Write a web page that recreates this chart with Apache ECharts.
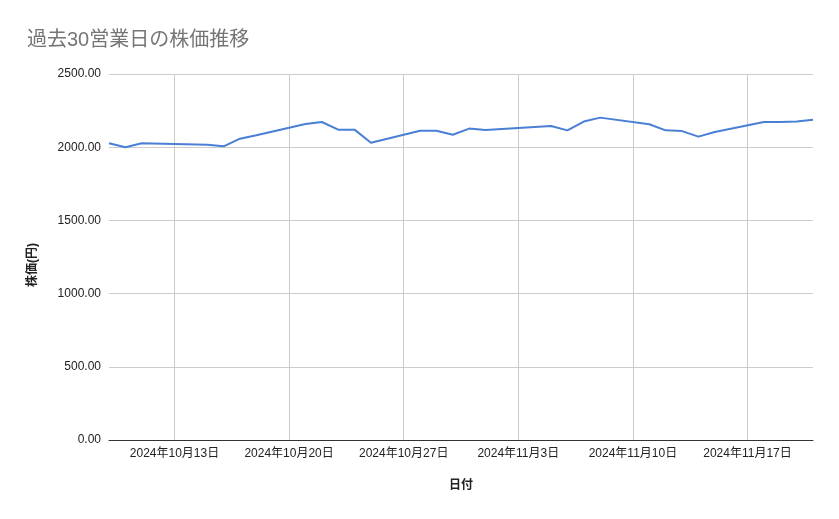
<!DOCTYPE html>
<html>
<head>
<meta charset="utf-8">
<script src="https://cdn.jsdelivr.net/npm/echarts@6/dist/echarts.min.js"></script>
<style>html,body{margin:0;padding:0;background:#fff;}#chart{width:839px;height:519px;}</style>
</head>
<body>
<div id="chart"></div>
<script>
const titleText = '過去30営業日の株価推移';
const xAxisName = '日付';
const yAxisName = '株価(円)';
const tradeDates = [
  '2024-10-09','2024-10-10','2024-10-11','2024-10-15','2024-10-16','2024-10-17','2024-10-18',
  '2024-10-21','2024-10-22','2024-10-23','2024-10-24','2024-10-25',
  '2024-10-28','2024-10-29','2024-10-30','2024-10-31','2024-11-01',
  '2024-11-05','2024-11-06','2024-11-07','2024-11-08',
  '2024-11-11','2024-11-12','2024-11-13','2024-11-14','2024-11-15',
  '2024-11-18','2024-11-19','2024-11-20','2024-11-21'
];
const prices = [
  2027, 2000, 2027, 2016, 2006, 2058, 2082,
  2158, 2172, 2120, 2120, 2031,
  2113, 2113, 2085, 2127, 2117,
  2145, 2115, 2175, 2202,
  2157, 2115, 2110, 2072, 2104,
  2172, 2172, 2175, 2188
];
const yTicks = [0, 500, 1000, 1500, 2000, 2500];

const FONT = "'Liberation Sans', 'Noto Sans CJK JP', sans-serif";

// Build calendar-day category axis spanning the trading dates
function parse(s){ const p = s.split('-').map(Number); return Date.UTC(p[0], p[1]-1, p[2]); }
const DAY = 86400000;
const start = parse(tradeDates[0]), end = parse(tradeDates[tradeDates.length-1]);
const calendar = [];
for (let t = start; t <= end; t += DAY) calendar.push(t);
const priceByDay = {};
tradeDates.forEach((d, i) => { priceByDay[parse(d)] = prices[i]; });
const seriesData = calendar.map(t => (t in priceByDay ? priceByDay[t] : null));
const catLabels = calendar.map(t => {
  const d = new Date(t);
  return d.getUTCFullYear() + '年' + (d.getUTCMonth()+1) + '月' + d.getUTCDate() + '日';
});
const isSunday = (idx) => new Date(calendar[idx]).getUTCDay() === 0;

const chart = echarts.init(document.getElementById('chart'));
chart.setOption({
  animation: false,
  backgroundColor: '#ffffff',
  title: {
    text: titleText,
    left: 22, top: 25,
    textStyle: { fontFamily: FONT, fontSize: 20, fontWeight: 'normal', color: '#757575' }
  },
  grid: { left: 109, right: 26, top: 74, bottom: 79, containLabel: false },
  xAxis: {
    type: 'category',
    data: catLabels,
    boundaryGap: false,
    name: xAxisName,
    nameLocation: 'middle',
    nameGap: 40,
    nameTextStyle: { fontFamily: FONT, fontSize: 12, fontWeight: 'bold', color: '#222' },
    axisLine: { show: true, lineStyle: { color: '#333', width: 1 } },
    axisTick: { show: false },
    axisLabel: {
      interval: (idx) => isSunday(idx),
      margin: 8,
      fontFamily: FONT, fontSize: 12, color: '#222'
    },
    splitLine: {
      show: true,
      interval: (idx) => isSunday(idx),
      lineStyle: { color: '#cccccc', width: 1 }
    }
  },
  yAxis: {
    type: 'value',
    min: yTicks[0], max: yTicks[yTicks.length-1], interval: yTicks[1]-yTicks[0],
    name: yAxisName,
    nameLocation: 'middle',
    nameGap: 70,
    nameTextStyle: { fontFamily: FONT, fontSize: 12, fontWeight: 'bold', color: '#222', padding: [0, 16, 0, 0] },
    axisLine: { show: false },
    axisTick: { show: false },
    axisLabel: {
      margin: 8,
      formatter: v => v.toFixed(2),
      fontFamily: FONT, fontSize: 12, color: '#222'
    },
    splitLine: { show: true, lineStyle: { color: '#cccccc', width: 1 } }
  },
  series: [{
    type: 'line',
    data: seriesData,
    connectNulls: true,
    showSymbol: false,
    symbol: 'none',
    lineStyle: { color: '#4a7fd6', width: 2 },
    itemStyle: { color: '#4a7fd6' }
  }]
});
</script>
</body>
</html>
